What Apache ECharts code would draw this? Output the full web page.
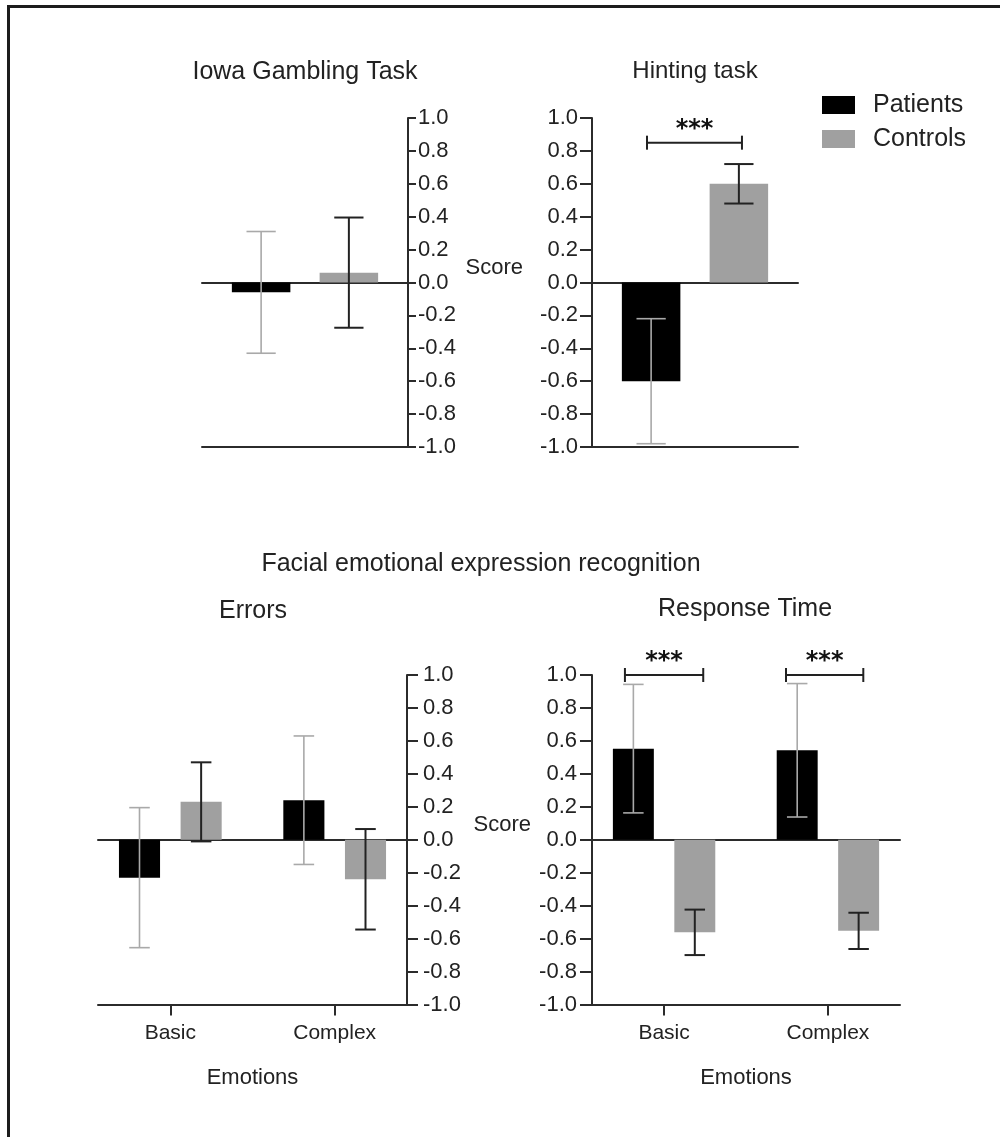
<!DOCTYPE html>
<html>
<head>
<meta charset="utf-8">
<script src="https://cdn.jsdelivr.net/npm/echarts@6/dist/echarts.min.js"></script>
<style>
html,body{margin:0;padding:0;background:#fff;}
#frame{position:absolute;left:7px;top:5px;width:1100px;height:1300px;border-left:3px solid #1c1c1c;border-top:3px solid #1c1c1c;}
#chart{position:absolute;left:0;top:0;width:1000px;height:1137px;}
</style>
</head>
<body>
<div id="frame"></div>
<div id="chart"></div>
<script>
// ---------------- data ----------------
const groupNames = ['Patients', 'Controls'];
const emotionCategories = ['Basic', 'Complex'];
const yMin = -1.0, yMax = 1.0, yStep = 0.2;

// Iowa Gambling Task (one group)
const iowaPatients = [-0.06];
const iowaPatientsErr = [0.37];
const iowaControls = [0.06];
const iowaControlsErr = [0.335];

// Hinting task (one group)
const hintingPatients = [-0.60];
const hintingPatientsErr = [0.38];
const hintingControls = [0.60];
const hintingControlsErr = [0.12];

// Facial emotional expression recognition – Errors
const errorsPatients = [-0.23, 0.24];
const errorsPatientsErr = [0.425, 0.39];
const errorsControls = [0.23, -0.24];
const errorsControlsErr = [0.24, 0.305];

// Facial emotional expression recognition – Response Time
const rtPatients = [0.553, 0.543];
const rtPatientsErr = [0.39, 0.405];
const rtControls = [-0.562, -0.553];
const rtControlsErr = [0.138, 0.11];

// significance brackets: [xFrom, xTo, y]
const hintingSig = [[-0.233, 0.228, 0.85]];
const rtSig = [[-0.239, 0.239, 1.0], [0.744, 1.216, 1.0]];
const sigLabel = '***';

// ---------------- styling / layout ----------------
const FONT = "'Liberation Sans', Arial, Helvetica, sans-serif";
const INK = '#222222';
const AXIS = '#2b2b2b';
const barColors = ['#000000', '#a0a0a0'];
const errColors = ['#a9a9a9', '#222222'];
const errWidths = [1.6, 2];

const panels = [
  { title: 'Iowa Gambling Task', titleX: 305, titleY: 60, titleSize: 25,
    grid: { left: 202, top: 118, width: 206, height: 329 },
    xMin: -0.5, xMax: 0.5, barW: 0.284, yPos: 'right', tickLen: 8, labelMargin: 10,
    cats: null, scoreGap: null,
    data: [[iowaPatients, iowaPatientsErr], [iowaControls, iowaControlsErr]], sig: [] },
  { title: 'Hinting task', titleX: 695, titleY: 59.5, titleSize: 24,
    grid: { left: 592, top: 118, width: 206, height: 329 },
    xMin: -0.5, xMax: 0.5, barW: 0.284, yPos: 'left', tickLen: 12, labelMargin: 14,
    cats: null, scoreGap: 69,
    data: [[hintingPatients, hintingPatientsErr], [hintingControls, hintingControlsErr]], sig: hintingSig },
  { title: 'Errors', titleX: 253, titleY: 599, titleSize: 25,
    grid: { left: 98, top: 675, width: 309, height: 329.5 },
    xMin: -0.44, xMax: 1.44, barW: 0.25, yPos: 'right', tickLen: 11, labelMargin: 16,
    cats: emotionCategories, scoreGap: null,
    data: [[errorsPatients, errorsPatientsErr], [errorsControls, errorsControlsErr]], sig: [] },
  { title: 'Response Time', titleX: 745, titleY: 597, titleSize: 25,
    grid: { left: 592, top: 675, width: 308, height: 329.5 },
    xMin: -0.44, xMax: 1.44, barW: 0.25, yPos: 'left', tickLen: 12, labelMargin: 15,
    cats: emotionCategories, scoreGap: 61,
    data: [[rtPatients, rtPatientsErr], [rtControls, rtControlsErr]], sig: rtSig }
];

const grids = [], xAxes = [], yAxes = [], series = [];
const titles = panels.map(p => ({
  text: p.title, left: p.titleX, top: p.titleY, textAlign: 'center', padding: 0,
  textStyle: { fontFamily: FONT, fontSize: p.titleSize, fontWeight: 'normal', color: INK }
}));
titles.push({
  text: 'Facial emotional expression recognition', left: 481, top: 552, textAlign: 'center', padding: 0,
  textStyle: { fontFamily: FONT, fontSize: 25, fontWeight: 'normal', color: INK }
});

panels.forEach((p, i) => {
  grids.push(Object.assign({ containLabel: false, outerBoundsMode: 'none' }, p.grid));
  const catVals = p.cats ? p.cats.map((_, k) => k) : [];
  // bottom axis (line at -1.0, category ticks and labels)
  xAxes.push({
    gridIndex: i, type: 'value', min: p.xMin, max: p.xMax, position: 'bottom',
    axisLine: { show: true, onZero: false, lineStyle: { color: AXIS, width: 2 } },
    axisTick: p.cats ? { show: true, length: 11, customValues: catVals, lineStyle: { color: AXIS, width: 2 } } : { show: false },
    axisLabel: p.cats ? {
      show: true, customValues: catVals, margin: 18,
      formatter: v => p.cats[Math.round(v)] || '',
      fontFamily: FONT, fontSize: 21, color: INK
    } : { show: false },
    splitLine: { show: false },
    name: p.cats ? 'Emotions' : '', nameLocation: 'middle', nameGap: 62,
    nameTextStyle: { fontFamily: FONT, fontSize: 22, color: INK }
  });
  // zero line
  xAxes.push({
    gridIndex: i, type: 'value', min: p.xMin, max: p.xMax, position: 'bottom',
    axisLine: { show: true, onZero: true, lineStyle: { color: AXIS, width: 2 } },
    axisTick: { show: false }, axisLabel: { show: false }, splitLine: { show: false }
  });
  yAxes.push({
    gridIndex: i, type: 'value', min: yMin, max: yMax, interval: yStep, position: p.yPos,
    axisLine: { show: true, onZero: false, lineStyle: { color: AXIS, width: 2 } },
    axisTick: { show: true, length: p.tickLen, lineStyle: { color: AXIS, width: 2 } },
    axisLabel: { margin: p.labelMargin, fontFamily: FONT, fontSize: 22, color: INK,
      formatter: v => (Math.abs(v) < 1e-9 ? 0 : v).toFixed(1) },
    splitLine: { show: false },
    name: p.scoreGap ? 'Score' : '', nameLocation: 'middle', nameRotate: 0, nameGap: p.scoreGap || 0,
    nameTextStyle: { fontFamily: FONT, fontSize: 22, color: INK, align: 'right', verticalAlign: 'bottom', padding: [0, 0, 4, 0] }
  });

  p.data.forEach(([means, errs], g) => {
    const sign = g === 0 ? -1 : 1;
    series.push({
      type: 'custom', name: groupNames[g], xAxisIndex: 2 * i, yAxisIndex: i,
      itemStyle: { color: barColors[g] }, clip: false, silent: true,
      encode: { x: 0, y: 1 },
      data: means.map((m, k) => [k, m, errs[k]]),
      renderItem: function (params, api) {
        const x = api.value(0) + sign * 0.75 * p.barW;
        const mean = api.value(1), err = api.value(2);
        const w = api.size([p.barW, 0])[0];
        const top = api.coord([x, mean]);
        const base = api.coord([x, 0]);
        const hi = api.coord([x, mean + err]);
        const lo = api.coord([x, mean - err]);
        const cap = w / 4;
        const es = { stroke: errColors[g], lineWidth: errWidths[g] };
        return {
          type: 'group', children: [
            { type: 'rect', shape: { x: top[0] - w / 2, y: Math.min(top[1], base[1]), width: w, height: Math.abs(base[1] - top[1]) }, style: { fill: barColors[g] } },
            { type: 'line', shape: { x1: hi[0], y1: hi[1], x2: lo[0], y2: lo[1] }, style: es },
            { type: 'line', shape: { x1: hi[0] - cap, y1: hi[1], x2: hi[0] + cap, y2: hi[1] }, style: es },
            { type: 'line', shape: { x1: lo[0] - cap, y1: lo[1], x2: lo[0] + cap, y2: lo[1] }, style: es }
          ]
        };
      }
    });
  });

  if (p.sig.length) {
    series.push({
      type: 'custom', name: 'sig' + i, xAxisIndex: 2 * i, yAxisIndex: i, clip: false, silent: true,
      encode: { x: [0, 1], y: 2 },
      data: p.sig,
      renderItem: function (params, api) {
        const a = api.coord([api.value(0), api.value(2)]);
        const b = api.coord([api.value(1), api.value(2)]);
        const st = { stroke: '#222', lineWidth: 2 };
        return {
          type: 'group', children: [
            { type: 'line', shape: { x1: a[0], y1: a[1], x2: b[0], y2: b[1] }, style: st },
            { type: 'line', shape: { x1: a[0], y1: a[1] - 7, x2: a[0], y2: a[1] + 7 }, style: st },
            { type: 'line', shape: { x1: b[0], y1: b[1] - 7, x2: b[0], y2: b[1] + 7 }, style: st },
            { type: 'text', style: { text: sigLabel, x: (a[0] + b[0]) / 2, y: a[1] - 13, align: 'center', verticalAlign: 'middle',
              font: "bold 24px 'DejaVu Sans', sans-serif", fill: '#111' } }
          ]
        };
      }
    });
  }
});

const chart = echarts.init(document.getElementById('chart'), null, { renderer: 'canvas' });
chart.setOption({
  animation: false,
  backgroundColor: 'transparent',
  title: titles,
  legend: {
    orient: 'vertical', left: 822, top: 92.5, padding: 0,
    itemWidth: 33, itemHeight: 18, itemGap: 9, icon: 'rect', selectedMode: false,
    textStyle: { fontFamily: FONT, fontSize: 25, color: INK, padding: [0, 0, 0, 13] },
    data: [
      { name: groupNames[0], itemStyle: { color: barColors[0] } },
      { name: groupNames[1], itemStyle: { color: barColors[1] } }
    ]
  },
  grid: grids,
  xAxis: xAxes,
  yAxis: yAxes,
  series: series
});
</script>
</body>
</html>
